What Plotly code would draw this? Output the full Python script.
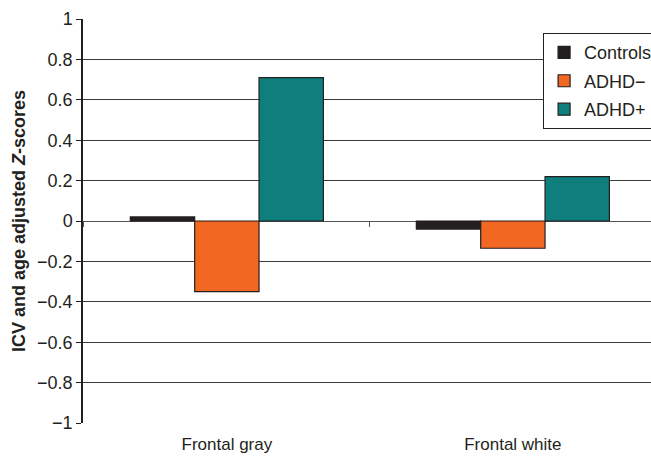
import plotly.graph_objects as go

categories = ["Frontal gray", "Frontal white"]
controls = [0.02, -0.04]
adhd_minus = [-0.35, -0.135]
adhd_plus = [0.71, 0.22]
series_names = ["Controls", "ADHD\u2212", "ADHD+"]
y_tickvals = [1, 0.8, 0.6, 0.4, 0.2, 0, -0.2, -0.4, -0.6, -0.8, -1]
y_ticktext = ["1", "0.8", "0.6", "0.4", "0.2", "0", "\u22120.2", "\u22120.4", "\u22120.6", "\u22120.8", "\u22121"]

colors = ["#231f20", "#f26722", "#0e7f7c"]
edge = "#231f20"

fig = go.Figure()
for name, vals, col in zip(series_names, [controls, adhd_minus, adhd_plus], colors):
    fig.add_trace(go.Bar(
        x=categories, y=vals, name=name,
        marker=dict(color=col, line=dict(color=edge, width=1.2)),
        legendgroup=name,
    ))

x_range = [-0.503, 1.483]
font_family = "Liberation Sans, Arial, sans-serif"
fig.update_layout(
    width=651, height=456,
    margin=dict(l=83, r=0, t=19, b=33, autoexpand=False),
    paper_bgcolor="white", plot_bgcolor="white",
    barmode="group", bargap=0.325, bargroupgap=0,
    font=dict(family=font_family, size=17, color="#231f20"),
    showlegend=True,
    legend=dict(
        x=0.81, y=0.965, xanchor="left", yanchor="top",
        bgcolor="white", bordercolor="#231f20", borderwidth=1,
        font=dict(size=18, color="#231f20"),
        tracegroupgap=2,
        itemwidth=30,
    ),
    xaxis=dict(
        type="category", range=x_range,
        showline=False, showgrid=False, zeroline=False,
        ticks="", tickfont=dict(size=17), ticklabelstandoff=9,
    ),
    xaxis2=dict(
        type="category", categoryarray=categories, range=x_range,
        overlaying="x", anchor="free", position=0.5,
        showticklabels=False, ticks="outside", ticklen=5, tickcolor="#555555",
        tickson="boundaries", showline=False, showgrid=False, zeroline=False,
        tickvals=categories,
    ),
    yaxis=dict(
        range=[-1, 1], tickvals=y_tickvals, ticktext=y_ticktext,
        showline=True, linecolor="#231f20", linewidth=1.5,
        ticks="outside", ticklen=5, tickcolor="#231f20",
        showgrid=True, gridcolor="#3c3c3c", gridwidth=1,
        zeroline=True, zerolinecolor="#555555", zerolinewidth=1,
        tickfont=dict(size=18), automargin=False,
        title=dict(text="<b>ICV and age adjusted <i>Z</i>-scores</b>", font=dict(size=18), standoff=7),
    ),
)
# invisible trace to activate xaxis2
fig.add_trace(go.Scatter(x=categories, y=[None, None], xaxis="x2", showlegend=False, hoverinfo="skip"))

fig.write_html("out.html", config={"displayModeBar": False},
               post_script="document.body.style.margin='0';document.body.style.padding='0';")
